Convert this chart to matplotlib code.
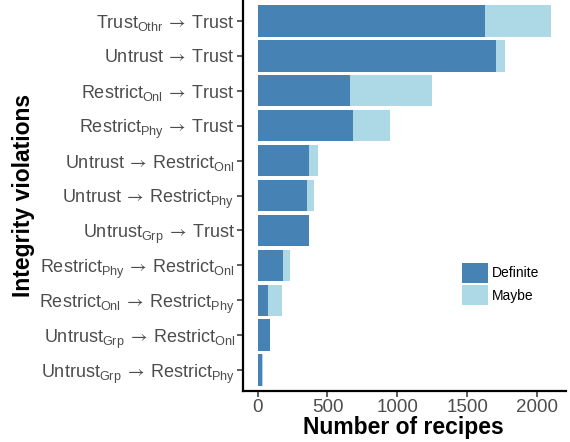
import matplotlib
matplotlib.use("Agg")
import matplotlib.pyplot as plt
import numpy as np

plt.rcParams['font.family'] = ['Liberation Sans', 'DejaVu Sans']
plt.rcParams['mathtext.fontset'] = 'custom'
plt.rcParams['mathtext.rm'] = 'Liberation Sans'
plt.rcParams['mathtext.it'] = 'Liberation Sans:italic'
plt.rcParams['mathtext.bf'] = 'Liberation Sans:bold'
plt.rcParams['mathtext.sf'] = 'STIXGeneral'

A = r"\:\mathsf{\rightarrow}\:"
categories = [
    r"$\mathrm{Trust_{Othr}}" + A + r"\mathrm{Trust}$",
    r"$\mathrm{Untrust}" + A + r"\mathrm{Trust}$",
    r"$\mathrm{Restrict_{Onl}}" + A + r"\mathrm{Trust}$",
    r"$\mathrm{Restrict_{Phy}}" + A + r"\mathrm{Trust}$",
    r"$\mathrm{Untrust}" + A + r"\mathrm{Restrict_{Onl}}$",
    r"$\mathrm{Untrust}" + A + r"\mathrm{Restrict_{Phy}}$",
    r"$\mathrm{Untrust_{Grp}}" + A + r"\mathrm{Trust}$",
    r"$\mathrm{Restrict_{Phy}}" + A + r"\mathrm{Restrict_{Onl}}$",
    r"$\mathrm{Restrict_{Onl}}" + A + r"\mathrm{Restrict_{Phy}}$",
    r"$\mathrm{Untrust_{Grp}}" + A + r"\mathrm{Restrict_{Onl}}$",
    r"$\mathrm{Untrust_{Grp}}" + A + r"\mathrm{Restrict_{Phy}}$",
]
definite = [1626, 1704, 663, 684, 371, 356, 371, 185, 71, 86, 28]
maybe = [477, 64, 585, 264, 64, 50, 0, 50, 100, 0, 8]
xticks = [0, 500, 1000, 1500, 2000]

c_def = '#4682B4'
c_may = '#ADD8E6'
gray = '#4D4D4D'

fig = plt.figure(figsize=(5.7, 4.42), dpi=100)
ax = fig.add_axes([243/570, 51/442, 323/570, 391/442])

y = np.arange(len(categories))
ax.barh(y, definite, height=0.9, color=c_def, label='Definite', linewidth=0)
ax.barh(y, maybe, left=definite, height=0.9, color=c_may, label='Maybe', linewidth=0)

ax.set_ylim(len(categories) - 0.4, -0.6)
ax.set_xlim(-105, 2208)
ax.set_yticks(y)
ax.set_yticklabels(categories, fontsize=13, color=gray)
ax.set_xticks(xticks)
ax.set_xticklabels([str(v) for v in xticks], fontsize=13.5, color=gray)
ax.tick_params(axis='both', length=4, width=1.1, color='#333333', pad=2)

for s in ['top', 'right']:
    ax.spines[s].set_visible(False)
for s in ['left', 'bottom']:
    ax.spines[s].set_linewidth(1.6)
    ax.spines[s].set_color('black')

ax.set_xlabel('Number of recipes', fontsize=16.5, fontweight='bold', color='black')
ax.set_ylabel('Integrity violations', fontsize=16.5, fontweight='bold', color='black')
ax.xaxis.set_label_coords(0.498, -0.0946)
ax.xaxis.label.set_va('center')
ax.yaxis.set_label_coords(-0.681, 0.5)
ax.yaxis.label.set_va('center')
ax.yaxis.label.set_ha('center')

leg = ax.legend(loc='center left', bbox_to_anchor=(0.678, 0.274), frameon=False,
                fontsize=10, handlelength=1.87, handleheight=1.87,
                labelspacing=0.15, handletextpad=0.3, borderpad=0, borderaxespad=0)

fig.savefig('out.png', dpi=100)
